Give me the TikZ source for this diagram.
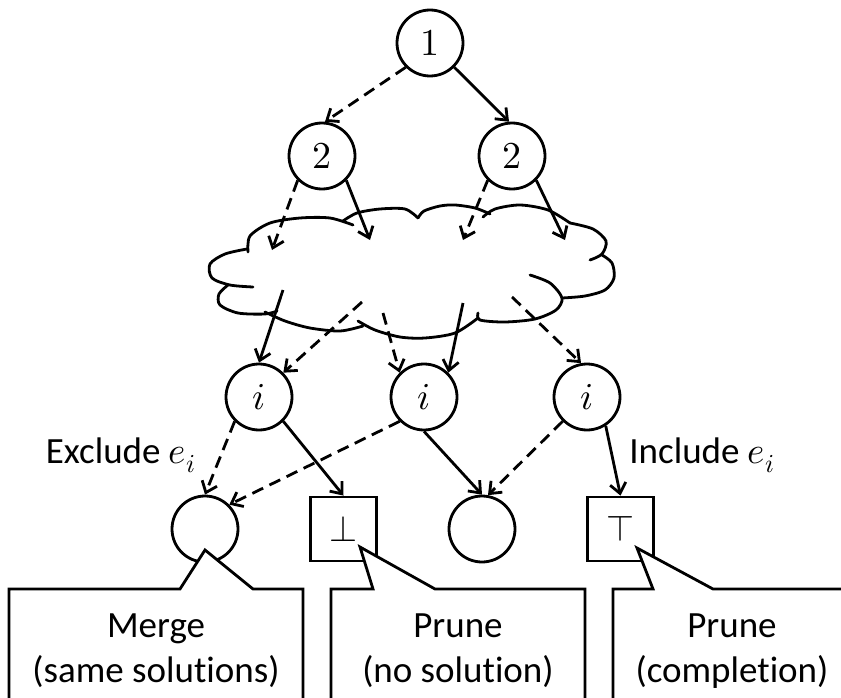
\documentclass[tikz,border=0pt]{standalone}
\usepackage{fontspec}
\usepackage{unicode-math}
\setmainfont{Carlito}[Ligatures=NoCommon]
\setmathfont{Latin Modern Math}
\usetikzlibrary{arrows.meta,calc}

\begin{document}
\begin{tikzpicture}[x=1pt,y=-1pt,
  line width=2.8pt,
  vnode/.style={circle, draw, minimum size=66pt, inner sep=0pt,
    font=\fontsize{38}{38}\selectfont},
  termbox/.style={draw, minimum width=66pt, minimum height=64pt, inner sep=0pt,
    font=\fontsize{36}{36}\selectfont},
  takeedge/.style={-{Straight Barb[length=10pt,width=16pt]}},
  skipedge/.style={takeedge, dash pattern=on 12pt off 7pt},
  edgetext/.style={font=\fontsize{37}{45}\selectfont, inner sep=0pt},
  calltext/.style={font=\fontsize{37}{45}\selectfont, align=center, inner sep=0pt},
  callbox/.style={draw, fill=white, line join=miter},
  puff/.style={line cap=round}
]
\useasboundingbox (0,0) rectangle (841,698);
\clip (0,0) rectangle (841,698);

% decision nodes
\node[vnode] (n1)  at (430,43)  {$1$};
\node[vnode] (n2a) at (322,156) {$2$};
\node[vnode] (n2b) at (512,156) {$2$};
\node[vnode] (ia)  at (259,397) {$i$};
\node[vnode] (ib)  at (424,397) {$i$};
\node[vnode] (ic)  at (587,397) {$i$};

% results of the last decision
\node[vnode] (ma)  at (205,529) {};
\node[termbox] (bot) at (343.5,529) {$\bot$};
\node[vnode] (mb)  at (482,529) {};
\node[termbox] (top) at (620.5,529) {$\top$};

% the cloud of intermediate levels
\begin{scope}[puff]
\draw plot[smooth] coordinates {(248,252) (250,236) (270,223) (300,218) (330,218) (353,225)};
\draw plot[smooth] coordinates {(343,221) (357,213) (380,209) (405,209) (418,218)};
\draw plot[smooth] coordinates {(418,218) (424,211) (440,206) (455,205) (475,208) (490,214)};
\draw plot[smooth] coordinates {(483,217) (495,209) (520,205) (548,210) (570,223)};
\draw plot[smooth] coordinates {(570,223) (593,229) (606,241) (602,254) (590,260)};
\draw plot[smooth] coordinates {(602,255) (612,263) (614,278) (605,290) (585,296) (562,298)};
\draw plot[smooth] coordinates {(530,275) (550,283) (562,298) (556,310) (535,319) (505,322) (480,320) (478,313)};
\draw plot[smooth] coordinates {(358,321) (375,330) (400,337) (425,338) (455,333) (478,318)};
\draw plot[smooth] coordinates {(265,312) (285,321) (310,328) (340,331) (363,326)};
\draw plot[smooth] coordinates {(228,285) (219,294) (220,305) (238,313) (265,314) (277,311)};
\draw plot[smooth] coordinates {(247,249) (225,254) (210,264) (212,278) (230,285) (253,287)};
\end{scope}

% arrow ends inside the cloud
\coordinate (c1) at (272,250);
\coordinate (c2) at (370,240);
\coordinate (c3) at (463,240);
\coordinate (c4) at (565,240);
\coordinate (d1) at (283,290);
\coordinate (d2) at (362,302);
\coordinate (d3) at (383,313);
\coordinate (d4) at (463,303);
\coordinate (d5) at (512,297);

% top levels
\draw[skipedge] (n1.south west) -- (n2a.85);
\draw[takeedge] (n1.south east) -- (n2b.95);
\draw[skipedge] (n2a.south west) -- (c1);
\draw[takeedge] (n2a.south east) -- (c2);
\draw[skipedge] (n2b.south west) -- (c3);
\draw[takeedge] (n2b.south east) -- (c4);

% into level i
\draw[takeedge] (d1) -- (ia.north);
\draw[skipedge] (d2) -- (ia.north east);
\draw[skipedge] (d3) -- (ib.north west);
\draw[takeedge] (d4) -- (ib.north east);
\draw[skipedge] (d5) -- (ic.100);

% decisions on edge e_i
\draw[skipedge] (ia.south west) -- (ma.north);
\draw[takeedge] (ia.south east) -- (bot.north);
\draw[skipedge] (ib.south west) -- (ma.north east);
\draw[takeedge] (ib.south) -- (mb.north);
\draw[skipedge] (ic.south west) -- (mb.80);
\draw[takeedge] (ic.-57) -- (top.north);

\node[edgetext, anchor=base east] (exl) at (197,463) {Exclude $e_i$};
\node[edgetext, anchor=base west] (inl) at (628,463) {Include $e_i$};

% callouts
\coordinate (tipa) at ($(ma)+(0,21)$);
\coordinate (tipb) at ($(bot)+(16.5,18)$);
\coordinate (tipc) at ($(top)+(16.5,19)$);

\draw[callbox] (9,760) -- (9,589) -- (180,589) -- (tipa) -- (253,589) -- (303,589) -- (303,760) -- cycle;
\draw[callbox] (331,760) -- (331,589) -- (373,589) -- (tipb) -- (435,589) -- (585,589) -- (585,760) -- cycle;
\draw[callbox] (613,760) -- (613,589) -- (653,589) -- (tipc) -- (713,589) -- (855,589) -- (855,760) -- cycle;

\node[calltext, anchor=base] (merge) at (156,682) {Merge\\(same solutions)};
\node[calltext, anchor=base] (prunea) at (458,682) {Prune\\(no solution)};
\node[calltext, anchor=base] (pruneb) at (732,682) {Prune\\(completion)};
\end{tikzpicture}
\end{document}
